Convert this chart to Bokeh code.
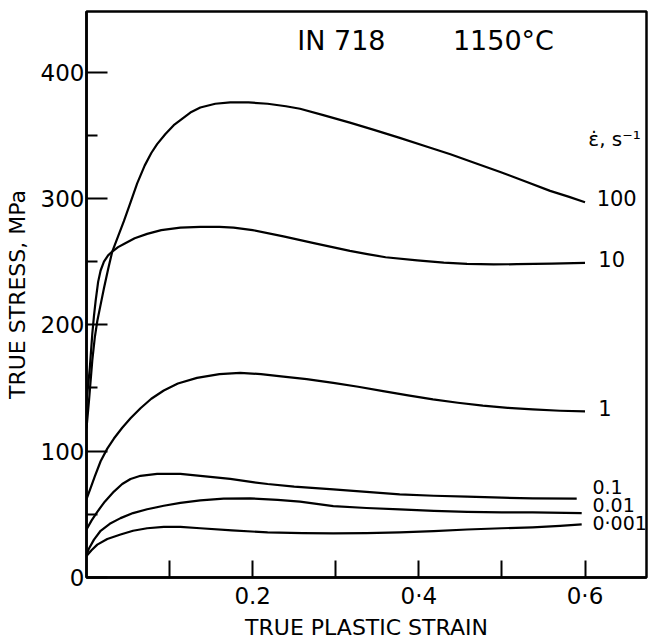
from bokeh.plotting import figure
from bokeh.models import Range1d, FixedTicker
from bokeh.embed import file_html
from bokeh.resources import INLINE
from bokeh.core.properties import value

# ---- data (true plastic strain, true stress MPa) ----
strain_100 = [0.0, 0.003, 0.007, 0.010, 0.013, 0.017, 0.021, 0.026, 0.031, 0.038, 0.045,
              0.053, 0.061, 0.07, 0.078, 0.085, 0.095, 0.105, 0.113, 0.125, 0.137, 0.155,
              0.173, 0.195, 0.218, 0.24, 0.257, 0.285, 0.317, 0.345, 0.377, 0.41, 0.438,
              0.47, 0.498, 0.53, 0.558, 0.58, 0.6]
stress_100 = [118, 140, 172, 190, 203, 216, 229, 244, 258, 270, 282,
              297, 312, 326, 336, 343, 351, 358, 362, 368, 372, 375,
              376, 376, 375, 373, 371, 366, 360, 354.5, 348, 341, 335,
              327.5, 321, 313, 306, 301.5, 297]

strain_10 = [0.0, 0.002, 0.004, 0.007, 0.009, 0.011, 0.014, 0.017, 0.021, 0.026, 0.031,
             0.038, 0.045, 0.058, 0.073, 0.09, 0.113, 0.137, 0.16, 0.177, 0.2, 0.237,
             0.275, 0.317, 0.338, 0.36, 0.398, 0.43, 0.458, 0.49, 0.518, 0.56, 0.6]
stress_10 = [140, 152, 166, 193, 207, 219, 234, 243, 250, 255, 258,
             261.5, 264, 268.5, 272, 275, 277, 277.5, 277.5, 277, 275, 270,
             264.5, 258.5, 256, 253.5, 251, 249.3, 248.3, 247.8, 248, 248.5, 249]

strain_1 = [0.0, 0.005, 0.01, 0.017, 0.025, 0.033, 0.043, 0.053, 0.065, 0.078, 0.093,
            0.11, 0.133, 0.16, 0.185, 0.21, 0.237, 0.265, 0.297, 0.327, 0.357, 0.387,
            0.417, 0.447, 0.477, 0.507, 0.537, 0.57, 0.6]
stress_1 = [62, 71, 80, 92, 102, 110, 118.5, 126, 134, 141.5, 148,
            153.5, 158, 161, 162, 161, 159, 157, 154, 151, 147.5, 144.2,
            141, 138.3, 136, 134.3, 133, 132, 131.5]

strain_01 = [0.0, 0.006, 0.013, 0.022, 0.033, 0.043, 0.053, 0.065, 0.085, 0.113, 0.137,
             0.173, 0.2, 0.218, 0.25, 0.297, 0.337, 0.377, 0.418, 0.458, 0.5, 0.537, 0.59]
stress_01 = [38, 45, 52, 60, 68, 74, 78, 80.5, 82, 82, 80.5,
             78, 75.5, 74, 72, 69.8, 67.7, 65.8, 64.7, 64, 63.2, 62.7, 62.5]

strain_001 = [0.0, 0.003, 0.009, 0.017, 0.028, 0.041, 0.056, 0.073, 0.093, 0.113, 0.137,
              0.165, 0.197, 0.23, 0.257, 0.297, 0.337, 0.377, 0.418, 0.458, 0.5, 0.537, 0.596]
stress_001 = [18, 23, 30, 37, 42.5, 47, 51, 54, 56.8, 59, 61,
              62.5, 62.6, 61.5, 60, 56.5, 55, 54, 52.8, 52, 51.6, 51.5, 51]

strain_0001 = [0.0, 0.006, 0.013, 0.025, 0.041, 0.056, 0.073, 0.093, 0.113, 0.137, 0.175,
               0.218, 0.26, 0.297, 0.337, 0.377, 0.418, 0.458, 0.5, 0.537, 0.57, 0.596]
stress_0001 = [17, 21.5, 26, 30.5, 34, 37, 39, 40, 40, 39, 37.3,
               35.7, 35.1, 35, 35.2, 35.7, 36.7, 38, 39, 39.7, 40.8, 42]

rate_labels_big = ["100", "10", "1"]
rate_labels_small = ["0.1", "0.01", "0\u00b7001"]
series = [(strain_100, stress_100), (strain_10, stress_10), (strain_1, stress_1),
          (strain_01, stress_01), (strain_001, stress_001), (strain_0001, stress_0001)]

y_major = [0, 100, 200, 300, 400]
y_minor = [50, 150, 250, 350]
x_major = [0.2, 0.4, 0.6]
x_minor = [0.1, 0.3, 0.5]
x_tick_text = {0.2: "0.2", 0.4: "0\u00b74", 0.6: "0\u00b76"}

FONT = "DejaVu Sans"

p = figure(frame_width=560, frame_height=566, output_backend="svg", toolbar_location=None,
           x_range=Range1d(0, 0.674), y_range=Range1d(0, 448),
           min_border_left=86, min_border_right=4, min_border_top=11, min_border_bottom=56,
           background_fill_color="white", border_fill_color="white")
p.xgrid.visible = False
p.ygrid.visible = False
p.outline_line_color = "black"
p.outline_line_width = 2.5
p.outline_line_alpha = 1

for xs, ys in series:
    p.line(xs, ys, line_color="black", line_width=2.2, line_join="round")

# axes
p.yaxis.ticker = FixedTicker(ticks=y_major, minor_ticks=y_minor)
p.xaxis.ticker = FixedTicker(ticks=x_major, minor_ticks=x_minor)
p.xaxis.major_label_overrides = x_tick_text
for ax in (p.xaxis, p.yaxis):
    ax.axis_line_color = "black"
    ax.axis_line_width = 2.5
    ax.major_tick_line_color = "black"
    ax.minor_tick_line_color = "black"
    ax.major_tick_line_width = 2
    ax.minor_tick_line_width = 2
    ax.major_tick_out = 0
    ax.minor_tick_out = 0
    ax.major_label_text_font = FONT
    ax.major_label_text_font_size = "23px"
    ax.major_label_text_color = "black"
    ax.axis_label_text_font = FONT
    ax.axis_label_text_font_size = "22px"
    ax.axis_label_text_font_style = "normal"
    ax.axis_label_text_color = "black"

p.yaxis.major_tick_in = 21
p.yaxis.minor_tick_in = 11
p.yaxis.major_label_standoff = 2
p.yaxis.axis_label = "TRUE STRESS, MPa"
p.yaxis.axis_label_standoff = 8

p.xaxis.major_tick_in = 17
p.xaxis.minor_tick_in = 17
p.xaxis.major_label_standoff = 5
p.xaxis.axis_label = "TRUE PLASTIC STRAIN"
p.xaxis.axis_label_standoff = 3

# title inside the plot
p.text(x=[0.2536], y=[425], text=["IN 718"], text_font=value(FONT), text_font_size="27px",
       text_baseline="middle", text_align="left", text_color="black")
p.text(x=[0.441], y=[425], text=["1150\u00b0C"], text_font=value(FONT), text_font_size="27px",
       text_baseline="middle", text_align="left", text_color="black")

# strain-rate labels at the right
p.text(x=[0.604], y=[347], text=["\u03b5\u0307, s\u207b\u00b9"], text_font=value(FONT),
       text_font_size="20px", text_baseline="middle", text_align="left", text_color="black")
p.text(x=[0.614, 0.616, 0.616], y=[300, 252, 134], text=rate_labels_big, text_font=value(FONT),
       text_font_size="21px", text_baseline="middle", text_align="left", text_color="black")
p.text(x=[0.609, 0.609, 0.609], y=[72, 57, 43], text=rate_labels_small, text_font=value(FONT),
       text_font_size="19px", text_baseline="middle", text_align="left", text_color="black")

open("out.html", "w").write(file_html(p, INLINE))
